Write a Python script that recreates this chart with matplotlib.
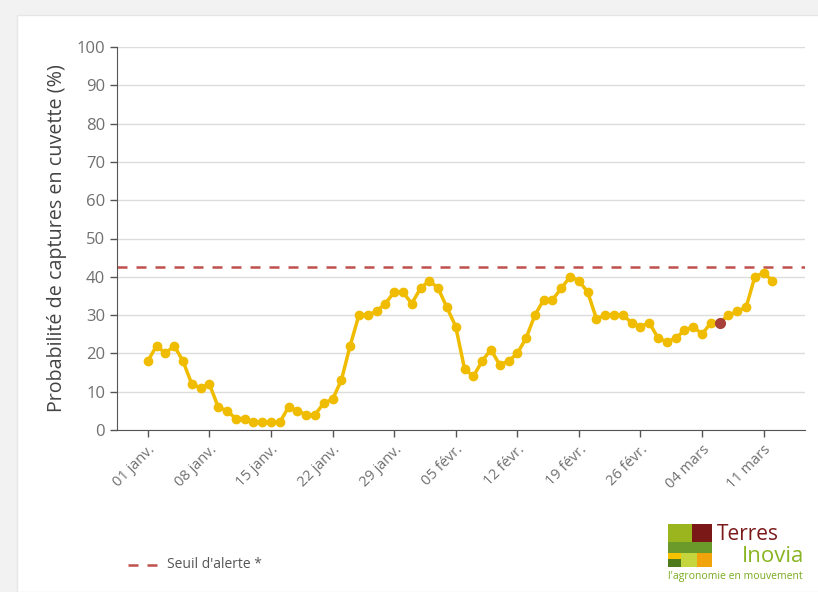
import numpy as np
import pandas as pd
import matplotlib
matplotlib.use('Agg')
import matplotlib.pyplot as plt
from matplotlib.patches import Rectangle

plt.rcParams['font.family'] = ['Open Sans', 'DejaVu Sans']

# données (une valeur par jour, à partir du 01/01/2024)
valeurs = [18, 22, 20, 22, 18, 12, 11, 12, 6, 5, 3, 3, 2, 2, 2, 2, 6, 5, 4, 4,
           7, 8, 13, 22, 30, 30, 31, 33, 36, 36, 33, 37, 39, 37,
           32, 27, 16, 14, 18, 21, 17, 18, 20, 24, 30, 34, 34, 37, 40, 39,
           36, 29, 30, 30, 30, 28, 27, 28, 24, 23, 24, 26, 27, 25, 28, 28,
           30, 31, 32, 40, 41, 39]
debut = '2024-01-01'
jour_actuel = 65          # point rouge (06 mars)
seuil = 42.5
tick_labels = ['01 janv.', '08 janv.', '15 janv.', '22 janv.', '29 janv.',
               '05 févr.', '12 févr.', '19 févr.', '26 févr.', '04 mars', '11 mars']

dates = pd.date_range(debut, periods=len(valeurs), freq='D')
tick_dates = pd.date_range(debut, periods=len(tick_labels), freq='7D')

fig = plt.figure(figsize=(8.18, 5.92), dpi=100)
fig.patch.set_facecolor('#f2f2f2')
# carte blanche
fig.patches.append(Rectangle((17/818, 0), 1, 1 - 15/592, transform=fig.transFigure,
                             facecolor='white', edgecolor='#e6e6e6', lw=1, zorder=-5))

ax = fig.add_axes([117/818, 1 - 430/592, (805 - 117)/818, (430 - 47)/592])
ax.set_facecolor('white')
ax.set_zorder(2)

ax.plot(dates, valeurs, color='#f0bc00', lw=2.5, marker='o', ms=6, zorder=3)
ax.plot(dates[jour_actuel], valeurs[jour_actuel], 'o', color='#a8403a', ms=7, zorder=4)
ax.axhline(seuil, color='#c0504d', lw=1.8, dashes=(4, 3.6), zorder=2)

ax.set_ylim(0, 100)
ax.set_yticks(np.arange(0, 101, 10))
x0 = dates[0] - pd.Timedelta(days=3.5)
x1 = dates[0] + pd.Timedelta(days=74.7)
ax.set_xlim(x0, x1)
ax.set_xticks(tick_dates)
ax.set_xticklabels(tick_labels, rotation=45, ha='right', rotation_mode='anchor',
                   fontsize=10.5, color='#707070')
ax.tick_params(axis='y', labelsize=12, labelcolor='#707070', color='#555555', length=5, width=1)
ax.tick_params(axis='x', color='#555555', length=5, width=1)

ax.grid(axis='y', color='#dcdcdc', lw=1)
ax.set_axisbelow(True)
for s in ['top', 'right']:
    ax.spines[s].set_visible(False)
ax.spines['left'].set_color('#555555')
ax.spines['bottom'].set_color('#555555')

ax.set_ylabel('Probabilité de captures en cuvette (%)', fontsize=14.2, color='#444444', labelpad=7)

# légende
fig.add_artist(plt.Line2D([128/818, 160/818], [1 - 565/592] * 2, color='#c0504d', lw=1.8,
                          dashes=(4, 3.6), transform=fig.transFigure))
fig.text(167/818, 1 - 565/592, "Seuil d'alerte *", fontsize=10, color='#555555', va='center')

# logo Terres Inovia
lx, ly, lw_, lh = 668, 524, 44, 43
blocs = [
    (0.00, 0.00, 0.55, 0.42, '#9bb51f'),
    (0.55, 0.00, 0.45, 0.42, '#7a1717'),
    (0.00, 0.42, 1.00, 0.26, '#6b9a2b'),
    (0.00, 0.68, 0.30, 0.14, '#f6c200'),
    (0.00, 0.82, 0.30, 0.18, '#4e7a1e'),
    (0.30, 0.68, 0.35, 0.32, '#c5d63c'),
    (0.65, 0.68, 0.35, 0.32, '#f0a30a'),
]
for bx, by, bw, bh, c in blocs:
    fig.patches.append(Rectangle(((lx + bx*lw_)/818, 1 - (ly + (by + bh)*lh)/592),
                                 bw*lw_/818, bh*lh/592, transform=fig.transFigure,
                                 facecolor=c, edgecolor='none'))
fig.text(717/818, 1 - 535/592, 'Terres', fontsize=15, color='#7a1a1a', va='center')
fig.text(804/818, 1 - 556/592, 'Inovia', fontsize=16, color='#8ab523', va='center', ha='right')
fig.text(668/818, 1 - 577/592, "l'agronomie en mouvement", fontsize=7.5, color='#7aaa20', va='center')

fig.savefig('out.png', dpi=100, facecolor=fig.get_facecolor())
